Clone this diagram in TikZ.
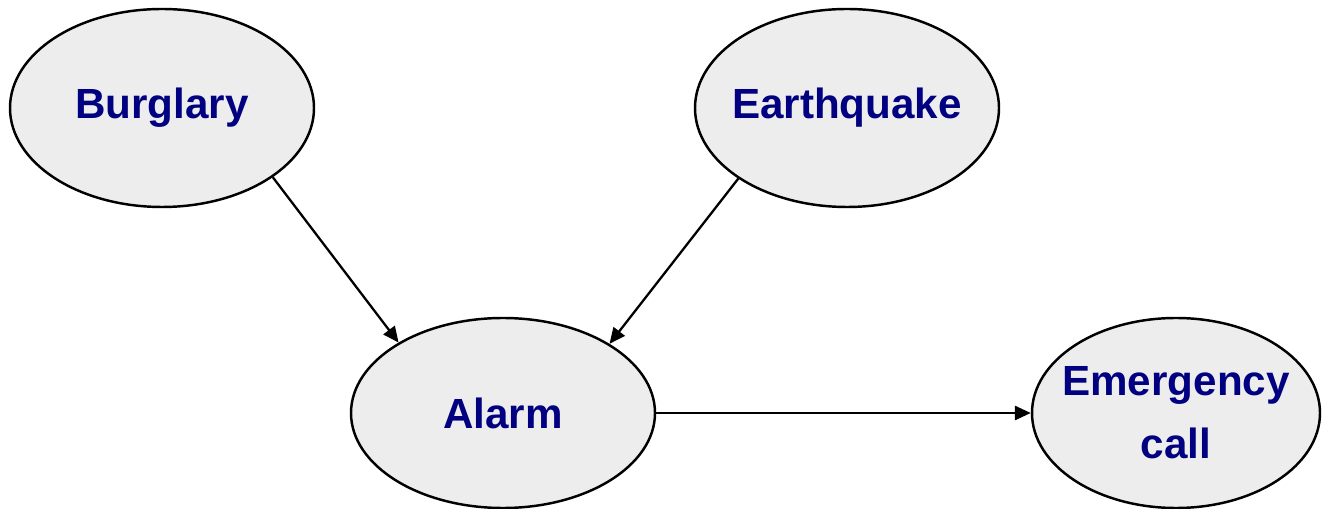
\documentclass[tikz,border=0pt]{standalone}
\usepackage{fontspec}
\setmainfont{Liberation Sans}
\usepackage{tikz}
\usetikzlibrary{arrows.meta,shapes.geometric}
\definecolor{navy}{RGB}{0,0,128}
\tikzset{
  var/.style={ellipse,draw=black,line width=1.4pt,fill=gray!14,
    minimum width=6.08cm,minimum height=3.96cm,inner xsep=-0.6cm,inner ysep=0pt,
    text=navy,font=\fontsize{24}{36}\selectfont\bfseries,align=center},
  link/.style={-{Triangle[length=9pt,width=8pt]},line width=1.3pt}
}

\begin{document}
\begin{tikzpicture}
  \useasboundingbox (0,0) rectangle (26.44,10.16);
  % the four variables
  \node[var] (burglary) at (3.24,8.0) {Burglary};
  \node[var] (quake) at (16.94,8.0) {Earthquake};
  \node[var,minimum height=3.8cm] (alarm) at (10.06,1.9) {Alarm};
  \node[var,minimum width=5.76cm,minimum height=3.8cm] (call) at (23.52,1.9) {Emergency\\call};
  % causal links
  \draw[link] (burglary.-32.6) -- (alarm.146.8);
  \draw[link] (quake.-147) -- (alarm.33.6);
  \draw[link] (alarm.east) -- (call.west);
\end{tikzpicture}
\end{document}
